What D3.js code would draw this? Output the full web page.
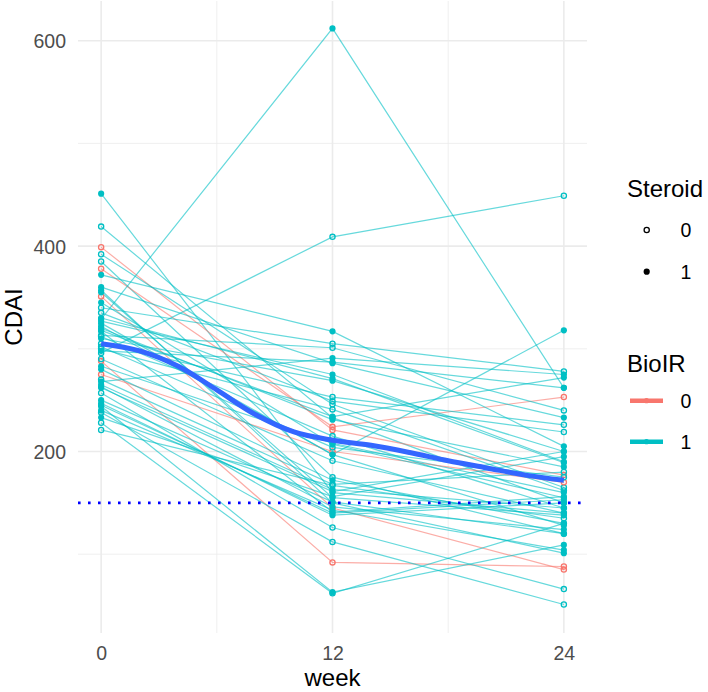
<!DOCTYPE html>
<html>
<head>
<meta charset="utf-8">
<script src="https://cdn.jsdelivr.net/npm/d3@7"></script>
<style>
  html, body { margin: 0; padding: 0; background: #fff; }
  svg { display: block; }
  text { font-family: "Liberation Sans", Arial, Helvetica, sans-serif; }
</style>
</head>
<body>
<svg id="chart" width="708" height="692"></svg>
<script>
// ---- data ----
const weeks = [0, 12, 24];
const week0  = [451,419,399,392,385,378,372,360,357,351,340,329,327,322,317,313,310,305,296,288,283,275,268,265,263,257,247,244,238,233,228,221,335,320,300,290,280,318,345,302,262,312,325,240,270,298,330,355,245,250];
const week12 = [160,233,221,246,175,224,317,286,150,145,305,612,275,197,141,301,269,253,409, 92,208,200,291,163,146,126,138, 63,112,156, 62,167,249,231,241,191,172,234,207,204,161,215,197,143,168,287,271,155,140,151];
const week24 = [140,150,177,165,120,253,205,233,101, 85,278,262,190,318,156,240,200,226,449, 88,160,170,275,145,124, 66,150,109, 51,195,130,135,219,185,162,140,130,272,155,175,200,145,128,104,180,262,189,138,153,120];
const steroid = [1,0,0,0,0,0,1,1,1,0,0,1,1,1,1,0,1,0,0,0,1,0,1,1,1,0,1,1,0,1,0,0,0,1,0,0,1,1,1,0,1,0,1,1,0,1,1,1,1,1];
const bioIR   = [1,1,0,1,1,0,1,1,1,0,1,1,1,1,1,1,1,1,1,0,1,0,1,1,1,1,1,1,1,1,1,1,1,1,1,1,1,1,1,1,1,1,1,1,1,1,1,1,1,1];
const smoothWeek = [0, 2, 4, 6, 8, 10, 12, 14, 16, 18, 20, 22, 24];
const smoothCDAI = [305, 298, 283, 260, 236, 219, 211, 206, 199, 191, 184, 177, 172];
const threshold = 150;
const xTicks = [0, 12, 24];
const xMinor = [6, 18];
const yTicks = [200, 400, 600];
const yMinor = [100, 300, 500];
const steroidLevels = ["0", "1"];
const bioLevels = ["0", "1"];
const bioColors = ["#F8766D", "#00BFC4"];

// ---- layout ----
const svg = d3.select("#chart");
const panel = { left: 78, right: 587, top: 1, bottom: 633 };
const x = d3.scaleLinear().domain([-1.2, 25.2]).range([panel.left, panel.right]);
const y = d3.scaleLinear().domain([200, 600]).range([451.5, 40.7]);
const color = d3.scaleOrdinal().domain([0, 1]).range(bioColors);

const subjects = week0.map((v, i) => ({
  id: i,
  steroid: steroid[i],
  bioIR: bioIR[i],
  values: [week0[i], week12[i], week24[i]].map((c, j) => ({ week: weeks[j], cdai: c }))
}));

// ---- grid ----
const grid = svg.append("g");
grid.selectAll(".ymin").data(yMinor).join("line")
  .attr("x1", panel.left).attr("x2", panel.right)
  .attr("y1", d => y(d)).attr("y2", d => y(d))
  .attr("stroke", "#EBEBEB").attr("stroke-width", 0.8);
grid.selectAll(".xmin").data(xMinor).join("line")
  .attr("y1", panel.top).attr("y2", panel.bottom)
  .attr("x1", d => x(d)).attr("x2", d => x(d))
  .attr("stroke", "#EBEBEB").attr("stroke-width", 0.8);
grid.selectAll(".ymaj").data(yTicks).join("line")
  .attr("x1", panel.left).attr("x2", panel.right)
  .attr("y1", d => y(d)).attr("y2", d => y(d))
  .attr("stroke", "#EBEBEB").attr("stroke-width", 1.6);
grid.selectAll(".xmaj").data(xTicks).join("line")
  .attr("y1", panel.top).attr("y2", panel.bottom)
  .attr("x1", d => x(d)).attr("x2", d => x(d))
  .attr("stroke", "#EBEBEB").attr("stroke-width", 1.6);

// ---- axes (text only, theme_minimal) ----
const yAxis = d3.axisLeft(y).tickValues(yTicks).tickSize(0).tickPadding(0);
const gy = svg.append("g").attr("transform", "translate(66,0)").call(yAxis);
gy.select(".domain").remove();
gy.selectAll("text").attr("fill", "#4D4D4D").style("font-size", "19.5px")
  .style("font-family", "'Liberation Sans', Arial, sans-serif").attr("dy", "0.36em");

const xAxis = d3.axisBottom(x).tickValues(xTicks).tickSize(0).tickPadding(0);
const gx = svg.append("g").attr("transform", "translate(0,646)").call(xAxis);
gx.select(".domain").remove();
gx.selectAll("text").attr("fill", "#4D4D4D").style("font-size", "19.5px")
  .style("font-family", "'Liberation Sans', Arial, sans-serif").attr("dy", "0.72em");

svg.append("text").attr("x", (panel.left + panel.right) / 2).attr("y", 686)
  .attr("text-anchor", "middle").style("font-size", "24px").attr("fill", "#000").text("week");
svg.append("text").attr("transform", `translate(22,${(panel.top + panel.bottom) / 2}) rotate(-90)`)
  .attr("text-anchor", "middle").style("font-size", "24px").attr("fill", "#000").text("CDAI");

// ---- subject lines ----
const line = d3.line().x(d => x(d.week)).y(d => y(d.cdai));
svg.append("g").selectAll("path").data(subjects).join("path")
  .attr("d", d => line(d.values))
  .attr("fill", "none")
  .attr("stroke", d => color(d.bioIR))
  .attr("stroke-opacity", 0.6)
  .attr("stroke-width", 1.2);

// ---- points ----
const pts = subjects.flatMap(s => s.values.map(v => ({ ...v, steroid: s.steroid, bioIR: s.bioIR })));
svg.append("g").selectAll("circle").data(pts).join("circle")
  .attr("cx", d => x(d.week)).attr("cy", d => y(d.cdai))
  .attr("r", d => d.steroid ? 3.1 : 2.6)
  .attr("fill", d => d.steroid ? color(d.bioIR) : "none")
  .attr("stroke", d => color(d.bioIR))
  .attr("stroke-width", d => d.steroid ? 0 : 1.3);

// ---- smooth ----
const smooth = smoothWeek.map((w, i) => ({ week: w, cdai: smoothCDAI[i] }));
svg.append("path").datum(smooth)
  .attr("d", d3.line().x(d => x(d.week)).y(d => y(d.cdai)).curve(d3.curveCatmullRom))
  .attr("fill", "none").attr("stroke", "#3366FF").attr("stroke-width", 5)
  .attr("stroke-linecap", "butt");

// ---- threshold line ----
svg.append("line")
  .attr("x1", panel.left).attr("x2", panel.right)
  .attr("y1", y(threshold)).attr("y2", y(threshold))
  .attr("stroke", "#0000FF").attr("stroke-width", 2.6)
  .attr("stroke-dasharray", "2.6 7.4");

// ---- legends ----
const lg = svg.append("g");
lg.append("text").attr("x", 627).attr("y", 197).style("font-size", "24px").text("Steroid");
steroidLevels.forEach((lab, i) => {
  const cy = 230 + i * 41.7;
  lg.append("circle").attr("cx", 646.7).attr("cy", cy)
    .attr("r", i ? 3.1 : 2.6)
    .attr("fill", i ? "#000" : "none").attr("stroke", "#000").attr("stroke-width", i ? 0 : 1.3);
  lg.append("text").attr("x", 680.5).attr("y", cy).attr("dy", "0.36em")
    .style("font-size", "19.5px").attr("fill", "#000").text(lab);
});
lg.append("text").attr("x", 627).attr("y", 371.7).style("font-size", "24px").text("BioIR");
bioLevels.forEach((lab, i) => {
  const cy = 400.7 + i * 41;
  lg.append("line").attr("x1", 630).attr("x2", 663).attr("y1", cy).attr("y2", cy)
    .attr("stroke", bioColors[i]).attr("stroke-width", 4.5);
  lg.append("circle").attr("cx", 646.5).attr("cy", cy).attr("r", 2.6).attr("fill", bioColors[i]);
  lg.append("text").attr("x", 680.5).attr("y", cy).attr("dy", "0.36em")
    .style("font-size", "19.5px").attr("fill", "#000").text(lab);
});
</script>
</body>
</html>
